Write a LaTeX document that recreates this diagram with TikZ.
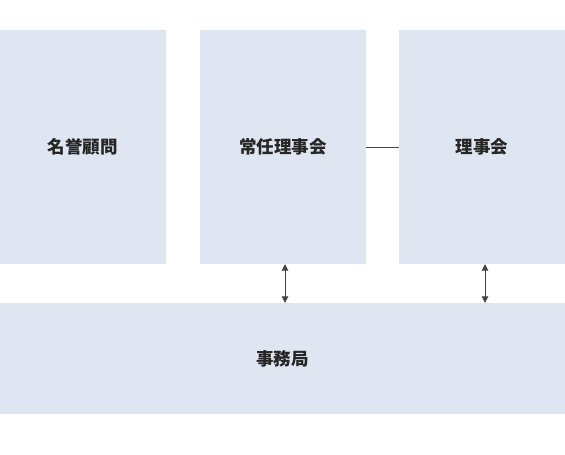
\documentclass[tikz,border=0pt]{standalone}
\usepackage{fontspec}
\newfontfamily\cjk{Noto Sans CJK JP}
\usetikzlibrary{arrows.meta}
\definecolor{boxfill}{HTML}{DFE5F1}
\definecolor{linec}{HTML}{444444}
\begin{document}
\begin{tikzpicture}[x=1pt,y=-1pt,
  blk/.style={fill=boxfill,draw=none,inner sep=0pt,font=\cjk\bfseries\fontsize{17.5}{19}\selectfont,text=black!85},
  conn/.style={draw=linec,line width=1pt},
  biarrow/.style={conn,{Triangle[length=6.5pt,width=6.5pt]}-{Triangle[length=6.5pt,width=6.5pt]}}]
\useasboundingbox (0,0) rectangle (565,455);
\node[blk,minimum width=166pt,minimum height=234pt] (meiyo) at (82.5,147) {名誉顧問};
\node[blk,minimum width=166pt,minimum height=234pt] (jonin) at (283,147) {常任理事会};
\node[blk,minimum width=166pt,minimum height=234pt] (riji) at (482,147) {理事会};
\node[blk,minimum width=565pt,minimum height=111pt] (jimu) at (282.5,358.5) {事務局};
\draw[conn] (jonin.east) -- (riji.west);
\draw[biarrow] (jonin.south -| 285,0) -- (jimu.north -| 285,0);
\draw[biarrow] (riji.south -| 485,0) -- (jimu.north -| 485,0);
\end{tikzpicture}
\end{document}
